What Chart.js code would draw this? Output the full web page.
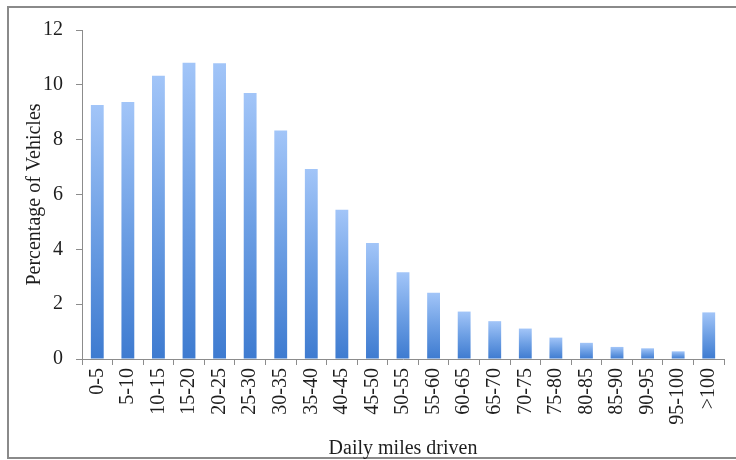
<!DOCTYPE html>
<html>
<head>
<meta charset="utf-8">
<script src="https://cdn.jsdelivr.net/npm/chart.js@4"></script>
<style>
  html, body { margin: 0; padding: 0; background: #fff; }
  #wrap { width: 736px; height: 460px; }
</style>
</head>
<body>
<div id="wrap"><canvas id="milesChart" width="736" height="460"></canvas></div>
<script>
// Categorías (millas diarias) y porcentaje de vehículos
const mileBins = ["0-5", "5-10", "10-15", "15-20", "20-25", "25-30", "30-35", "35-40",
    "40-45", "45-50", "50-55", "55-60", "60-65", "65-70", "70-75", "75-80",
    "80-85", "85-90", "90-95", "95-100", ">100"];
const vehiclePercent = [9.26, 9.37, 10.33, 10.81, 10.79, 9.70, 8.33, 6.93,
    5.44, 4.23, 3.16, 2.42, 1.73, 1.38, 1.11, 0.78,
    0.59, 0.44, 0.39, 0.28, 1.70];
const yTicks = [0, 2, 4, 6, 8, 10, 12];

const serif = "'Liberation Serif', 'Times New Roman', serif";

// Degradado por barra: claro arriba, oscuro abajo
function barGradient(context) {
    const chart = context.chart;
    const yScale = chart.scales.y;
    if (!yScale || context.dataIndex === undefined) return "#5b92de";
    const v = context.dataset.data[context.dataIndex];
    const top = yScale.getPixelForValue(v);
    const bottom = yScale.getPixelForValue(0);
    if (!isFinite(top) || !isFinite(bottom) || top === bottom) return "#5b92de";
    const g = chart.ctx.createLinearGradient(0, top, 0, bottom);
    g.addColorStop(0, "#a2c5f8");
    g.addColorStop(0.5, "#6d9fe4");
    g.addColorStop(1, "#3e7bd0");
    return g;
}

// Marco gris alrededor del gráfico
const framePlugin = {
    id: "frame",
    beforeDraw(chart) {
        const ctx = chart.ctx;
        ctx.save();
        ctx.strokeStyle = "#8a8a8a";
        ctx.lineWidth = 2;
        ctx.strokeRect(8, 7, chart.width + 20, chart.height - 9);
        ctx.restore();
    }
};

new Chart(document.getElementById("milesChart"), {
    type: "bar",
    data: {
        labels: mileBins,
        datasets: [{
            data: vehiclePercent,
            backgroundColor: barGradient,
            borderWidth: 0,
            categoryPercentage: 1,
            barPercentage: 0.42
        }]
    },
    options: {
        responsive: false,
        animation: false,
        layout: { padding: { left: 8, right: 11, top: 30, bottom: 0 } },
        plugins: {
            legend: { display: false },
            tooltip: { enabled: false }
        },
        scales: {
            x: {
                offset: true,
                afterFit(scale) { scale.height = 101; },
                grid: {
                    display: true,
                    offset: true,
                    drawOnChartArea: false,
                    drawTicks: true,
                    tickLength: 6,
                    color: "#8c8c8c"
                },
                border: { display: true, color: "#8c8c8c", width: 1 },
                ticks: {
                    minRotation: 90,
                    maxRotation: 90,
                    autoSkip: false,
                    color: "#1e1e1e",
                    padding: 3,
                    font: { family: serif, size: 20 }
                },
                title: {
                    display: true,
                    text: "Daily miles driven",
                    color: "#1e1e1e",
                    padding: { top: 0, bottom: 1 },
                    font: { family: serif, size: 20, lineHeight: 1 }
                }
            },
            y: {
                min: 0,
                max: 12,
                afterFit(scale) { scale.width = 74; },
                afterBuildTicks(scale) {
                    scale.ticks = yTicks.map(v => ({ value: v }));
                },
                grid: {
                    display: true,
                    drawOnChartArea: false,
                    drawTicks: true,
                    tickLength: 6,
                    color: "#8c8c8c"
                },
                border: { display: true, color: "#8c8c8c", width: 1 },
                ticks: {
                    color: "#1e1e1e",
                    padding: 13,
                    font: { family: serif, size: 20 }
                },
                title: {
                    display: true,
                    text: "Percentage of Vehicles",
                    color: "#1e1e1e",
                    padding: { top: 17, bottom: 0 },
                    font: { family: serif, size: 20, lineHeight: 1 }
                }
            }
        }
    },
    plugins: [framePlugin]
});
</script>
</body>
</html>
